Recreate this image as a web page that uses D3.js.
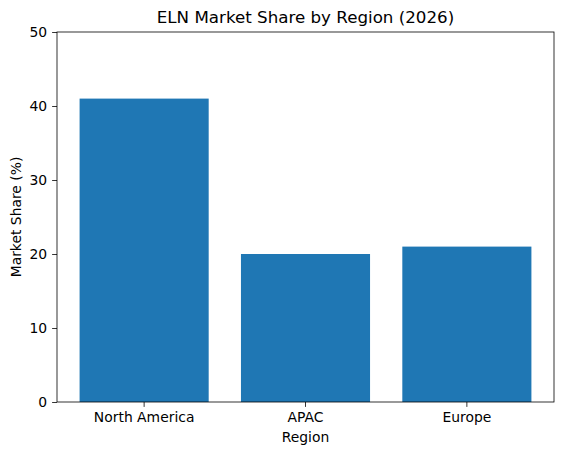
<!DOCTYPE html>
<html>
<head>
<meta charset="utf-8">
<script src="https://cdn.jsdelivr.net/npm/d3@7"></script>
<style>
  body { margin: 0; background: #fff; }
  text { font-family: "DejaVu Sans", sans-serif; fill: #000; }
</style>
</head>
<body>
<svg id="chart"></svg>
<script>
// data
var regions = ["North America", "APAC", "Europe"];
var shares = [41, 20, 21];
var yTicks = [0, 10, 20, 30, 40, 50];

var W = 562, H = 455;
var m = { left: 57, right: 8, top: 32, bottom: 53 };
var svg = d3.select("#chart").attr("width", W).attr("height", H);

var x = d3.scaleBand().domain(regions)
    .range([m.left, W - m.right])
    .paddingInner(0.2).paddingOuter(0.14);
var y = d3.scaleLinear().domain([0, 50]).range([H - m.bottom, m.top]);

//bars
svg.selectAll("rect.bar").data(regions).enter().append("rect")
    .attr("class", "bar")
    .attr("x", function (d) { return x(d); })
    .attr("y", function (d, i) { return y(shares[i]); })
    .attr("width", x.bandwidth())
    .attr("height", function (d, i) { return y(0) - y(shares[i]); })
    .attr("fill", "#1f77b4");

// axes
var xAxis = svg.append("g").attr("transform", "translate(0," + (H - m.bottom) + ")")
    .call(d3.axisBottom(x).tickSize(4.9).tickPadding(5.5).tickSizeOuter(0));
var yAxis = svg.append("g").attr("transform", "translate(" + m.left + ",0)")
    .call(d3.axisLeft(y).tickValues(yTicks).tickSize(4.9).tickPadding(5).tickSizeOuter(0));
[xAxis, yAxis].forEach(function (g) {
    g.select(".domain").remove();
    g.selectAll("text").style("font-size", "13.9px").style("font-family", "DejaVu Sans");
    g.selectAll("line").attr("stroke", "#000").attr("stroke-width", 0.8);
});

// frame
svg.append("rect")
    .attr("x", m.left).attr("y", m.top)
    .attr("width", W - m.right - m.left).attr("height", H - m.bottom - m.top)
    .attr("fill", "none").attr("stroke", "#000").attr("stroke-width", 0.8);

// labels
svg.append("text").attr("x", (m.left + W - m.right) / 2).attr("y", 23)
    .attr("text-anchor", "middle").style("font-size", "16.7px")
    .text("ELN Market Share by Region (2026)");
svg.append("text").attr("x", (m.left + W - m.right) / 2).attr("y", 442)
    .attr("text-anchor", "middle").style("font-size", "13.9px")
    .text("Region");
svg.append("text")
    .attr("transform", "translate(21," + ((m.top + H - m.bottom) / 2) + ") rotate(-90)")
    .attr("text-anchor", "middle").style("font-size", "13.9px")
    .text("Market Share (%)");
</script>
</body>
</html>
